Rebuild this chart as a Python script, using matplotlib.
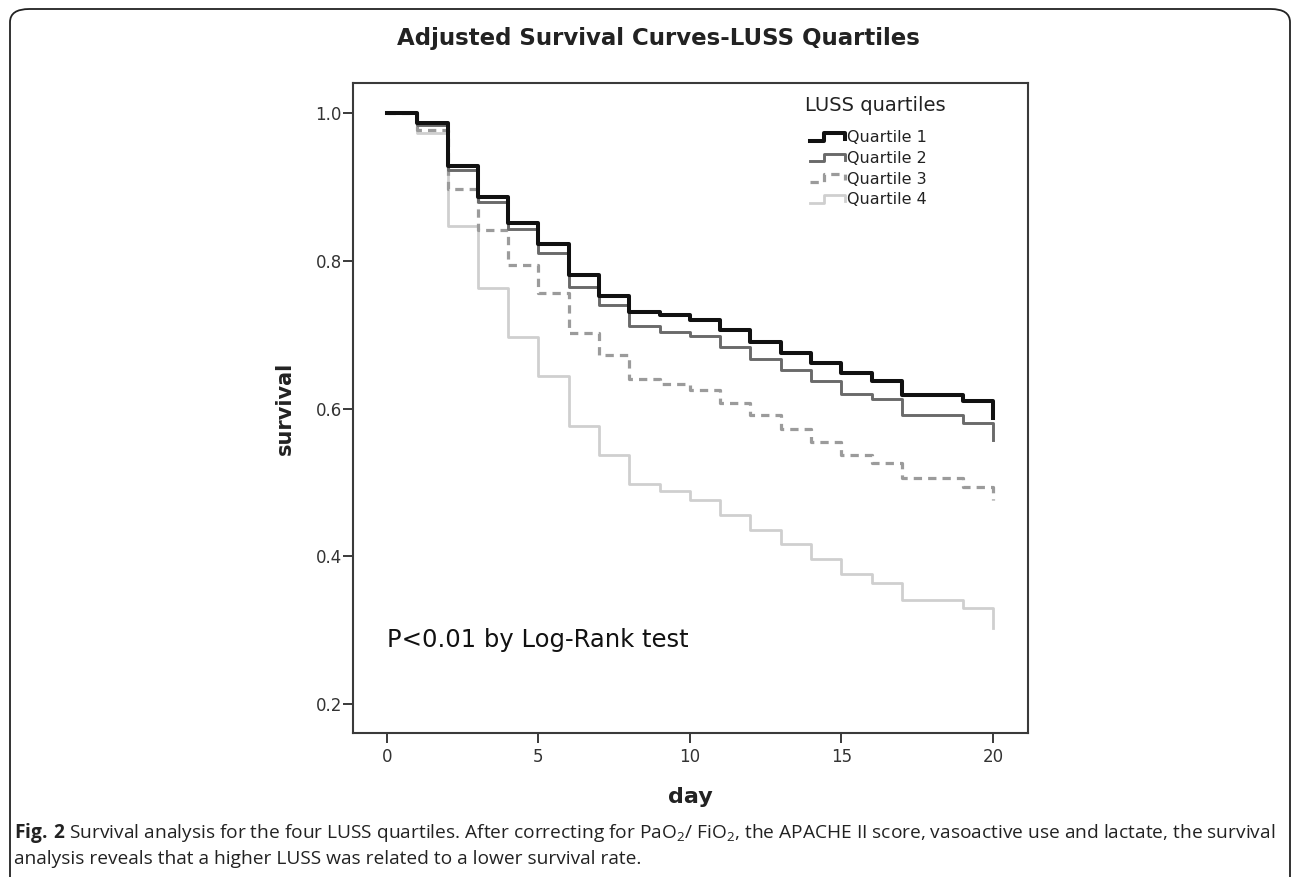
import matplotlib
matplotlib.use("Agg")
import matplotlib.pyplot as plt
from matplotlib.legend_handler import HandlerBase
from matplotlib.lines import Line2D
from matplotlib.patches import FancyBboxPatch

plt.rcParams["font.family"] = ["DejaVu Sans"]
plt.rcParams["mathtext.fontset"] = "custom"
plt.rcParams["mathtext.rm"] = "Open Sans"
plt.rcParams["mathtext.bf"] = "Open Sans:bold"

# survival, value held from each day to the next (last = drop at day 20)
days = list(range(0, 21))
q1 = [1.0, 0.987, 0.928, 0.887, 0.851, 0.823, 0.781, 0.752, 0.731, 0.727, 0.720,
      0.707, 0.691, 0.676, 0.662, 0.648, 0.638, 0.619, 0.619, 0.610, 0.587]
q2 = [1.0, 0.984, 0.923, 0.880, 0.844, 0.811, 0.765, 0.740, 0.712, 0.704, 0.698,
      0.683, 0.667, 0.652, 0.637, 0.620, 0.613, 0.592, 0.592, 0.581, 0.558]
q3 = [1.0, 0.977, 0.898, 0.842, 0.795, 0.757, 0.703, 0.673, 0.640, 0.634, 0.625,
      0.608, 0.591, 0.573, 0.555, 0.537, 0.527, 0.506, 0.506, 0.494, 0.476]
q4 = [1.0, 0.973, 0.847, 0.764, 0.697, 0.644, 0.576, 0.537, 0.498, 0.488, 0.477,
      0.456, 0.436, 0.417, 0.397, 0.376, 0.364, 0.341, 0.341, 0.330, 0.303]
labels = ["Quartile 1", "Quartile 2", "Quartile 3", "Quartile 4"]
xticks = [0, 5, 10, 15, 20]
yticks = [0.2, 0.4, 0.6, 0.8, 1.0]


class StepHandler(HandlerBase):
    # little step glyph like the SPSS legend
    def create_artists(self, legend, orig, xd, yd, w, h, fontsize, trans):
        xs = [xd, xd + 0.42 * w, xd + 0.42 * w, xd + w, xd + w]
        ys = [yd + 0.15 * h, yd + 0.15 * h, yd + 0.85 * h, yd + 0.85 * h, yd + 0.3 * h]
        ln = Line2D(xs, ys)
        ln.update_from(orig)
        ln.set_transform(trans)
        return [ln]


fig = plt.figure(figsize=(12.92, 8.77), dpi=100)
ax = fig.add_axes([353 / 1292, 1 - 733 / 877, 675 / 1292, 650 / 877])

styles = [
    dict(color="#111111", lw=2.9, ls="-"),
    dict(color="#6a6a6a", lw=2.1, ls="-"),
    dict(color="#9b9b9b", lw=2.3, ls=(0, (2.6, 1.9))),
    dict(color="#cfcfcf", lw=2.0, ls="-"),
]
handles = []
for ys, lab, st in zip([q4, q3, q2, q1], labels[::-1], styles[::-1]):
    h, = ax.plot(days, ys, drawstyle="steps-post", label=lab, **st)
    handles.append(h)
handles = handles[::-1]

ax.set_xlim(-1.12, 21.16)
ax.set_ylim(0.161, 1.041)
ax.set_xticks(xticks)
ax.set_yticks(yticks)
ax.set_yticklabels([f"{v:.1f}" for v in yticks])
for sp in ax.spines.values():
    sp.set_color("#3a3a3a")
    sp.set_linewidth(1.5)
ax.tick_params(axis="both", direction="out", length=7, width=1.4, color="#3a3a3a",
               labelsize=12, labelcolor="#333333")
ax.tick_params(axis="x", pad=4)
ax.tick_params(axis="y", pad=1)

ax.set_xlabel("day", fontsize=16, fontweight="bold", color="#222222")
ax.xaxis.set_label_coords(0.5, -0.083)
ax.set_ylabel("survival", fontsize=15, fontweight="bold", color="#222222")
ax.yaxis.set_label_coords(-0.086, 0.5)

ax.text(0.670, 0.966, "LUSS quartiles", transform=ax.transAxes, fontsize=14,
        color="#222222", ha="left", va="center")
leg = ax.legend(handles, labels, loc="upper left", bbox_to_anchor=(0.6765, 0.927),
                frameon=False, fontsize=11.5, handlelength=2.2, handletextpad=0.15,
                labelspacing=0.35, borderpad=0, borderaxespad=0,
                handler_map={Line2D: StepHandler()})
for t in leg.get_texts():
    t.set_color("#222222")

ax.text(0.05, 0.143, "P<0.01 by Log-Rank test", transform=ax.transAxes,
        fontsize=17.5, color="#111111", va="center", ha="left")

fig.text(658 / 1292, 1 - 38 / 877, "Adjusted Survival Curves-LUSS Quartiles",
         fontsize=16.5, fontweight="bold", ha="center", va="center", color="#222222")

# outer rounded frame
frame = FancyBboxPatch((10 / 1292, -0.05), 1280 / 1292, 1.05 - 9 / 877,
                       boxstyle="round,pad=0,rounding_size=0.015",
                       transform=fig.transFigure, fill=False, ec="#222222", lw=1.3,
                       clip_on=False)
fig.add_artist(frame)

fig.text(14 / 1292, 1 - 833 / 877,
         r"$\mathbf{Fig.\,2}$ Survival analysis for the four LUSS quartiles. After correcting for "
         r"PaO$_{\mathregular{2}}$/ FiO$_{\mathregular{2}}$, the APACHE II score, vasoactive use "
         r"and lactate, the survival",
         family="Open Sans", fontsize=13.8, ha="left", va="center", color="#222222")
fig.text(14 / 1292, 1 - 859 / 877,
         "analysis reveals that a higher LUSS was related to a lower survival rate.",
         family="Open Sans", fontsize=13.8, ha="left", va="center", color="#222222")

fig.savefig("out.png", dpi=100)
